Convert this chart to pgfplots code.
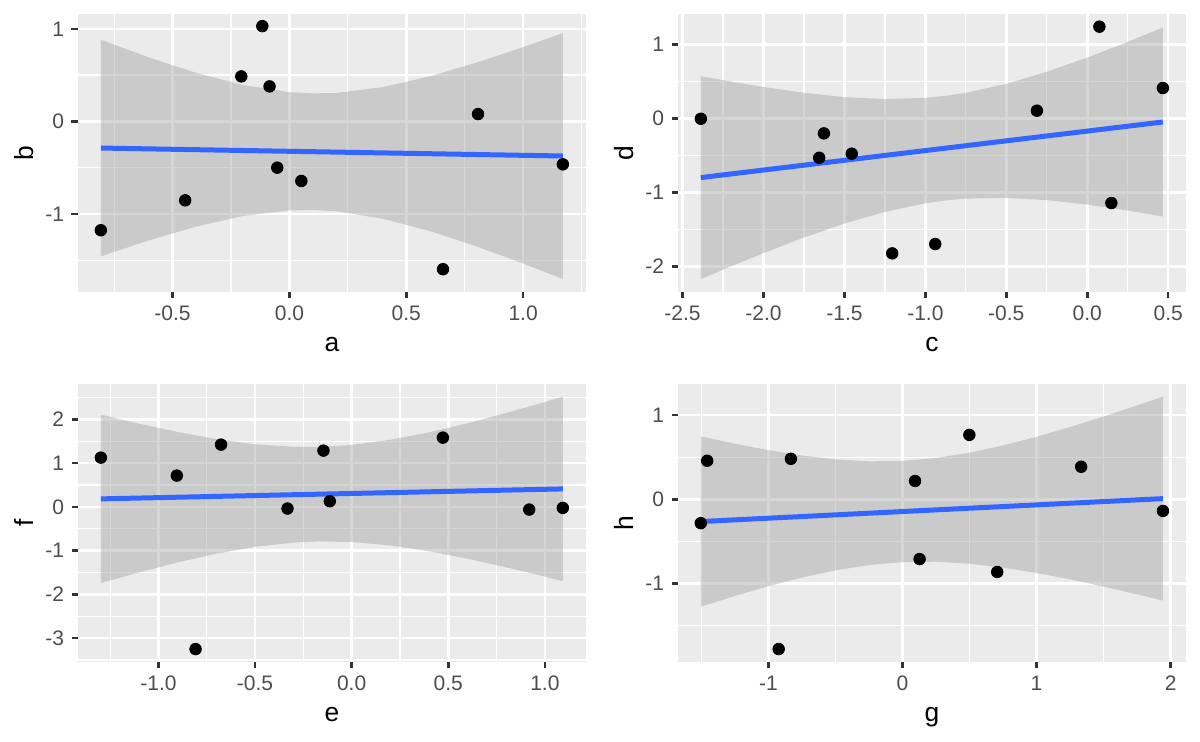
\documentclass[border=0pt]{standalone}
\usepackage{fontspec}
\setmainfont{Liberation Sans}
\usepackage{pgfplots}
\pgfplotsset{compat=1.18}
\definecolor{panelbg}{HTML}{EBEBEB}
\definecolor{tickgray}{HTML}{333333}
\definecolor{labelgray}{HTML}{4D4D4D}
\definecolor{ribbon}{HTML}{999999}
\definecolor{gblue}{HTML}{3366FF}
\pgfplotsset{
  gg/.style={
    scale only axis, width=254.15pt, height=138.85pt,
    anchor=north west,
    axis background/.style={fill=panelbg},
    axis line style={draw=none},
    grid=both,
    major grid style={white, line width=1.25pt},
    minor grid style={white, line width=0.62pt},
    tick align=outside, tick pos=left,
    major tick length=3.1pt, minor tick length=0pt,
    every tick/.style={tickgray, line width=1.25pt},
    tick label style={font=\fontsize{10.5}{12}\selectfont, text=labelgray, inner sep=0pt},
    yticklabel style={anchor=east, xshift=-3.5pt},
    xticklabel style={anchor=north, yshift=-3.8pt},
    every axis x label/.style={at={(axis description cs:0.5,-0.2139)}, anchor=base, font=\fontsize{13.2}{15}\selectfont, inner sep=0pt},
    every axis y label/.style={at={(axis description cs:-0.0873,0.5)}, rotate=90, anchor=base, font=\fontsize{13.2}{15}\selectfont, inner sep=0pt},
    clip=false,
  },
  pts/.style={only marks, mark=*, mark size=2.9pt, mark options={fill=black, draw=none}},
  rib/.style={fill=ribbon, fill opacity=0.4, draw=none},
  fit/.style={color=gblue, line width=2.5pt, no marks},
}
\begin{document}
\begin{tikzpicture}
\path[use as bounding box] (0,0) rectangle (600pt,-370.5pt);
% Panel 1
\begin{axis}[gg, at={(38.85pt,-7pt)},
  xmin=-0.906, xmax=1.269, ymin=-1.84, ymax=1.16,
  xtick={-0.5,0,0.5,1}, xticklabels={-0.5,0.0,0.5,1.0},
  minor xtick={-0.75,-0.25,0.25,0.75,1.25},
  ytick={-1,0,1}, yticklabels={-1,0,1},
  minor ytick={-1.5,-0.5,0.5},
  xlabel={a}, ylabel={b}]
\addplot[pts] coordinates {(-0.807,-1.176) (-0.446,-0.853) (-0.206,0.486) (-0.116,1.029) (-0.085,0.378) (-0.052,-0.500) (0.051,-0.644) (0.657,-1.597) (0.807,0.079) (1.170,-0.464)};
\addplot[rib] coordinates {(-0.807,0.882) (-0.6,0.690) (-0.4,0.525) (-0.2,0.394) (0.0,0.316) (0.1,0.303) (0.2,0.306) (0.4,0.370) (0.6,0.486) (0.8,0.634) (1.0,0.802) (1.170,0.954)
 (1.170,-1.702) (1.0,-1.536) (0.8,-1.350) (0.6,-1.184) (0.4,-1.052) (0.2,-0.970) (0.1,-0.957) (0.0,-0.962) (-0.2,-1.022) (-0.4,-1.137) (-0.6,-1.284) (-0.807,-1.458)};
\addplot[fit] coordinates {(-0.807,-0.288) (1.170,-0.374)};
\end{axis}
% Panel 2
\begin{axis}[gg, at={(338.85pt,-7pt)},
  xmin=-2.530, xmax=0.610, ymin=-2.342, ymax=1.410,
  xtick={-2.5,-2,-1.5,-1,-0.5,0,0.5}, xticklabels={-2.5,-2.0,-1.5,-1.0,-0.5,0.0,0.5},
  minor xtick={-2.25,-1.75,-1.25,-0.75,-0.25,0.25},
  ytick={-2,-1,0,1}, yticklabels={-2,-1,0,1},
  minor ytick={-1.5,-0.5,0.5},
  xlabel={c}, ylabel={d}]
\addplot[pts] coordinates {(-2.387,-0.005) (-1.656,-0.532) (-1.627,-0.203) (-1.455,-0.477) (-1.205,-1.824) (-0.939,-1.698) (-0.311,0.104) (0.075,1.239) (0.149,-1.144) (0.467,0.410)};
\addplot[rib] coordinates {(-2.387,0.571) (-2.2,0.497) (-2.0,0.424) (-1.75,0.346) (-1.5,0.287) (-1.25,0.261) (-1.0,0.277) (-0.889,0.301) (-0.75,0.346) (-0.5,0.466) (-0.25,0.629) (0.0,0.821) (0.25,1.033) (0.467,1.228)
 (0.467,-1.326) (0.25,-1.245) (0.0,-1.165) (-0.25,-1.105) (-0.5,-1.074) (-0.75,-1.084) (-0.889,-1.113) (-1.0,-1.147) (-1.25,-1.263) (-1.5,-1.421) (-1.75,-1.610) (-2.0,-1.820) (-2.2,-1.999) (-2.387,-2.171)};
\addplot[fit] coordinates {(-2.387,-0.800) (0.467,-0.049)};
\end{axis}
% Panel 3
\begin{axis}[gg, at={(38.85pt,-192pt)},
  xmin=-1.418, xmax=1.213, ymin=-3.541, ymax=2.810,
  xtick={-1,-0.5,0,0.5,1}, xticklabels={-1.0,-0.5,0.0,0.5,1.0},
  minor xtick={-1.25,-0.75,-0.25,0.25,0.75},
  ytick={-3,-2,-1,0,1,2}, yticklabels={-3,-2,-1,0,1,2},
  minor ytick={-3.5,-2.5,-1.5,-0.5,0.5,1.5,2.5},
  xlabel={e}, ylabel={f}]
\addplot[pts] coordinates {(-1.298,1.127) (-0.905,0.716) (-0.808,-3.252) (-0.676,1.424) (-0.332,-0.038) (-0.146,1.287) (-0.113,0.129) (0.472,1.584) (0.919,-0.061) (1.093,-0.023)};
\addplot[rib] coordinates {(-1.298,2.109) (-1.1,1.902) (-0.9,1.712) (-0.7,1.551) (-0.5,1.432) (-0.3,1.372) (-0.179,1.370) (0.0,1.417) (0.2,1.534) (0.4,1.704) (0.6,1.913) (0.8,2.147) (1.0,2.399) (1.093,2.521)
 (1.093,-1.699) (1.0,-1.595) (0.8,-1.381) (0.6,-1.185) (0.4,-1.014) (0.2,-0.882) (0.0,-0.803) (-0.179,-0.790) (-0.3,-0.816) (-0.5,-0.914) (-0.7,-1.071) (-0.9,-1.270) (-1.1,-1.498) (-1.298,-1.743)};
\addplot[fit] coordinates {(-1.298,0.183) (1.093,0.411)};
\end{axis}
% Panel 4
\begin{axis}[gg, at={(338.85pt,-192pt)},
  xmin=-1.676, xmax=2.115, ymin=-1.926, ymax=1.367,
  xtick={-1,0,1,2}, xticklabels={-1,0,1,2},
  minor xtick={-1.5,-0.5,0.5,1.5},
  ytick={-1,0,1}, yticklabels={-1,0,1},
  minor ytick={-1.5,-0.5,0.5},
  xlabel={g}, ylabel={h}]
\addplot[pts] coordinates {(-1.504,-0.283) (-1.456,0.457) (-0.923,-1.776) (-0.832,0.480) (0.094,0.217) (0.128,-0.709) (0.499,0.764) (0.707,-0.862) (1.333,0.386) (1.943,-0.138)};
\addplot[rib] coordinates {(-1.504,0.746) (-1.25,0.659) (-1.0,0.583) (-0.75,0.520) (-0.5,0.474) (-0.25,0.450) (0,0.455) (0.25,0.490) (0.5,0.552) (0.75,0.638) (1.0,0.741) (1.25,0.857) (1.5,0.981) (1.75,1.113) (1.943,1.217)
 (1.943,-1.201) (1.75,-1.127) (1.5,-1.035) (1.25,-0.949) (1.0,-0.873) (0.75,-0.810) (0.5,-0.764) (0.25,-0.740) (0,-0.745) (-0.25,-0.780) (-0.5,-0.842) (-0.75,-0.928) (-1.0,-1.031) (-1.25,-1.147) (-1.504,-1.274)};
\addplot[fit] coordinates {(-1.504,-0.264) (1.943,0.008)};
\end{axis}
\end{tikzpicture}
\end{document}
